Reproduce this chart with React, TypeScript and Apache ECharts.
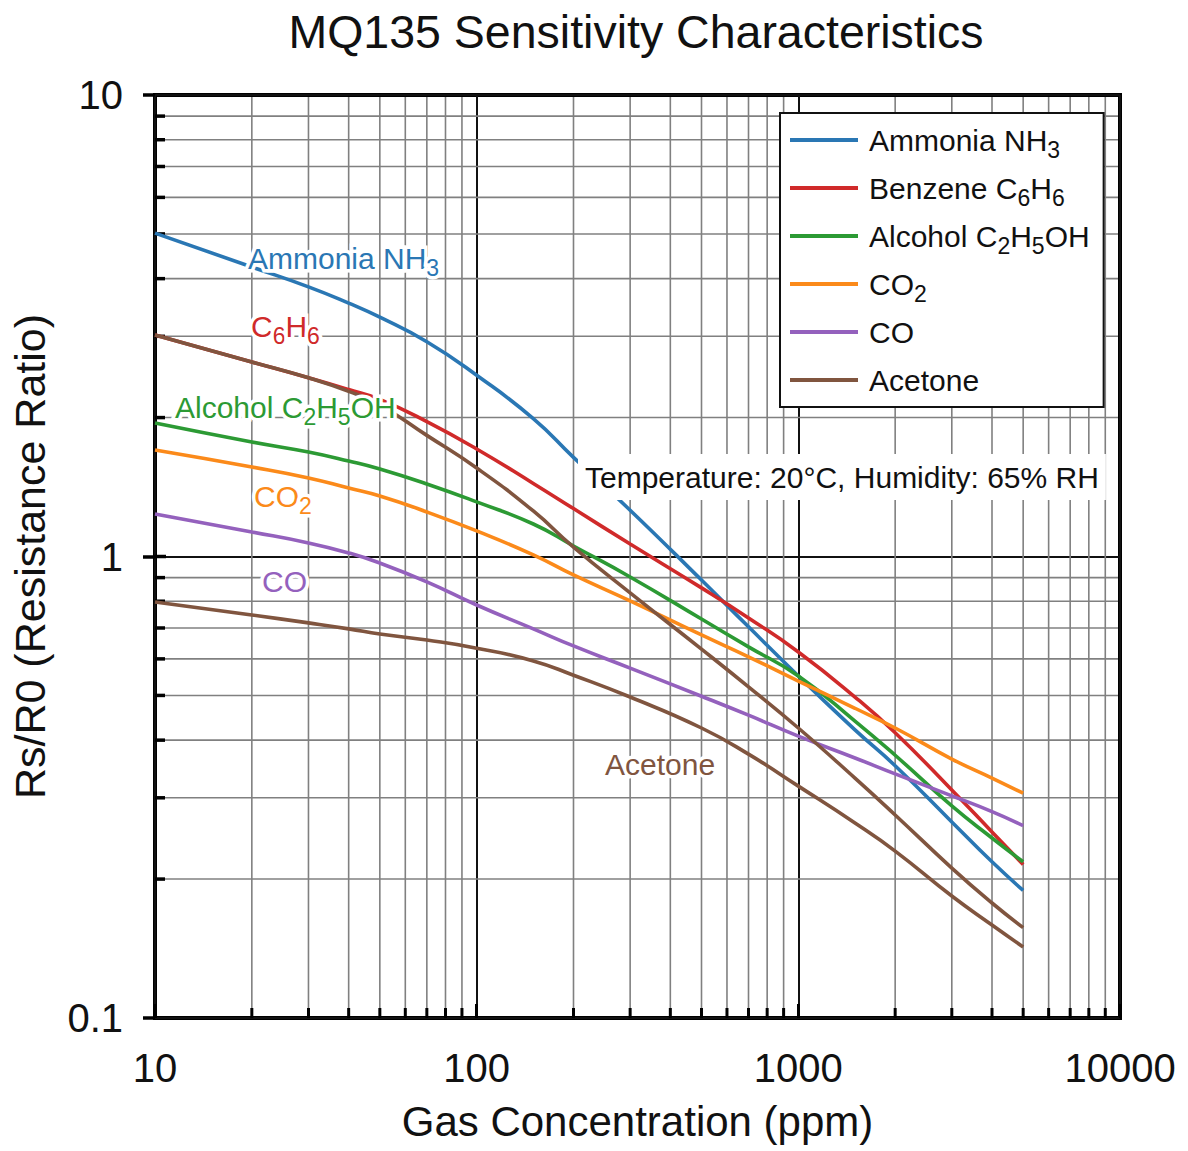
import React, { useEffect, useRef } from 'react';
import * as echarts from 'echarts';

// ---- data ----
const concentration = [10, 20, 30, 40, 50, 70, 100, 150, 200, 300, 500, 700, 1000, 1500, 2000, 3000, 4000, 5000];
const ammonia = [5.02, 4.24, 3.84, 3.54, 3.3, 2.92, 2.47, 1.99, 1.64, 1.26, 0.889, 0.704, 0.551, 0.421, 0.352, 0.266, 0.218, 0.189];
const benzene = [3.02, 2.64, 2.44, 2.3, 2.19, 1.96, 1.71, 1.44, 1.27, 1.064, 0.855, 0.736, 0.621, 0.496, 0.415, 0.312, 0.253, 0.215];
const alcohol = [1.947, 1.771, 1.684, 1.61, 1.547, 1.436, 1.313, 1.176, 1.054, 0.903, 0.732, 0.637, 0.551, 0.44, 0.371, 0.288, 0.2455, 0.218];
const co2 = [1.701, 1.563, 1.48, 1.407, 1.352, 1.249, 1.136, 1.008, 0.912, 0.801, 0.676, 0.606, 0.537, 0.469, 0.425, 0.364, 0.331, 0.307];
const co = [1.236, 1.13, 1.07, 1.018, 0.968, 0.881, 0.785, 0.697, 0.64, 0.573, 0.498, 0.453, 0.408, 0.366, 0.338, 0.303, 0.28, 0.261];
const acetoneSteep = [3.02, 2.64, 2.44, 2.28, 2.13, 1.83, 1.555, 1.255, 1.048, 0.834, 0.63, 0.522, 0.425, 0.331, 0.2754, 0.2113, 0.1775, 0.157];
const acetoneLow = [0.797, 0.747, 0.718, 0.697, 0.679, 0.659, 0.633, 0.594, 0.553, 0.496, 0.425, 0.373, 0.318, 0.2646, 0.23, 0.1838, 0.159, 0.1425];

const seriesNames = ['Ammonia NH3', 'Benzene C6H6', 'Alcohol C2H5OH', 'CO2', 'CO', 'Acetone'];
const legendRich: Record<string, string> = {
  'Ammonia NH3': 'Ammonia NH{s|3}',
  'Benzene C6H6': 'Benzene C{s|6}H{s|6}',
  'Alcohol C2H5OH': 'Alcohol C{s|2}H{s|5}OH',
  CO2: 'CO{s|2}',
  CO: 'CO{s| }',
  Acetone: 'Acetone{s| }',
};

// log-paper gridline / tick values
const xMinorGrid = [20, 30, 40, 50, 60, 70, 80, 90, 200, 300, 400, 500, 600, 700, 800, 900, 2000, 3000, 4000, 5000, 6000, 7000, 8000, 9000];
const yMinorGrid = [0.2, 0.3, 0.4, 0.5, 0.6, 0.7, 0.8, 0.9, 2, 3, 4, 5, 6, 7, 8, 9];
const yMajorInside = [1];

const X_MIN = 10, X_MAX = 10000, Y_MIN = 0.1, Y_MAX = 10;

const FONT = "'Liberation Sans', Arial, Helvetica, sans-serif";
const C_BLUE = '#2a77b4';
const C_RED = '#d02a2a';
const C_GREEN = '#2c9a34';
const C_ORANGE = '#fb8a1a';
const C_PURPLE = '#9461bd';
const C_BROWN = '#80553f';

function lineSeries(name: string, color: string, values: number[]) {
  return {
    type: 'line',
    name,
    data: concentration.map((c, i) => [c, values[i]]),
    smooth: 0.5,
    symbol: 'none',
    silent: true,
    z: 5,
    lineStyle: { color, width: 3.6 },
    itemStyle: { color },
  };
}

const subRich = { s: { fontSize: 23, lineHeight: 30, padding: [19, 0, 0, 0] } };

function curveLabel(text: string, x: number, y: number, color: string) {
  return {
    type: 'text',
    x,
    y,
    z: 20,
    silent: true,
    style: {
      text,
      fill: color,
      fontSize: 30,
      fontFamily: FONT,
      lineHeight: 30,
      align: 'left',
      verticalAlign: 'middle',
      stroke: '#fff',
      lineWidth: 7,
      strokeFirst: true,
      rich: subRich,
    },
  };
}

export default function App() {
  const ref = useRef<HTMLDivElement>(null);
  useEffect(() => {
    const chart = echarts.init(ref.current!, undefined, { renderer: 'svg' });
    const option: any = {
      animation: false,
      backgroundColor: '#fff',
      textStyle: { fontFamily: FONT },
      title: {
        text: 'MQ135 Sensitivity Characteristics',
        left: 631,
        textAlign: 'center',
        top: 3,
        textStyle: { fontSize: 46.5, fontWeight: 'normal', color: '#111', fontFamily: FONT },
      },
      grid: { left: 155, right: 68, top: 95, bottom: 133, show: true, borderColor: '#000', borderWidth: 4, backgroundColor: 'transparent' },
      legend: {
        data: seriesNames,
        orient: 'vertical',
        left: 780,
        top: 113,
        padding: [6, 14, 6, 10],
        itemGap: 6,
        itemWidth: 68,
        itemHeight: 4,
        icon: 'rect',
        backgroundColor: '#fff',
        borderColor: '#111',
        borderWidth: 2,
        borderRadius: 0,
        selectedMode: false,
        z: 30,
        formatter: (name: string) => legendRich[name] || name,
        textStyle: { fontSize: 30, color: '#111', fontFamily: FONT, lineHeight: 30, padding: [0, 0, 0, 6], rich: subRich },
      },
      xAxis: {
        type: 'log',
        logBase: 10,
        min: X_MIN,
        max: X_MAX,
        name: 'Gas Concentration (ppm)',
        nameLocation: 'middle',
        nameGap: 82,
        nameTextStyle: { fontSize: 42, color: '#111', fontFamily: FONT },
        axisLine: { show: false },
        axisTick: { show: true, inside: true, length: 14, lineStyle: { color: '#000', width: 3 } },
        axisLabel: { fontSize: 40, color: '#111', margin: 30, fontFamily: FONT, formatter: (v: number) => String(Number(v.toPrecision(4))) },
        splitLine: { show: true, lineStyle: { color: '#111', width: 2 } },
      },
      yAxis: {
        type: 'log',
        logBase: 10,
        min: Y_MIN,
        max: Y_MAX,
        name: 'Rs/R0 (Resistance Ratio)',
        nameLocation: 'middle',
        nameGap: 104,
        nameTextStyle: { fontSize: 43, color: '#111', fontFamily: FONT },
        axisLine: { show: false },
        axisTick: { show: true, inside: false, length: 12, lineStyle: { color: '#000', width: 3.5 } },
        axisLabel: { fontSize: 40, color: '#111', margin: 32, fontFamily: FONT, formatter: (v: number) => String(Number(v.toPrecision(4))) },
        splitLine: { show: true, lineStyle: { color: '#111', width: 2 } },
      },
      series: [
        {
          type: 'custom',
          name: 'xgrid',
          silent: true,
          z: 1,
          data: xMinorGrid.map((v) => [v, 1]),
          renderItem: (_p: any, api: any) => {
            const v = api.value(0);
            const b = api.coord([v, Y_MIN]);
            const t = api.coord([v, Y_MAX]);
            return {
              type: 'group',
              children: [
                { type: 'line', shape: { x1: b[0], y1: b[1] - 2, x2: t[0], y2: t[1] + 2 }, style: { stroke: '#808080', lineWidth: 1.6 } },
                { type: 'line', shape: { x1: b[0], y1: b[1], x2: b[0], y2: b[1] - 10 }, style: { stroke: '#000', lineWidth: 3 } },
              ],
            };
          },
        },
        {
          type: 'custom',
          name: 'ygrid',
          silent: true,
          z: 1,
          data: [...yMinorGrid.map((v) => [X_MIN, v, 0]), ...yMajorInside.map((v) => [X_MIN, v, 1])],
          renderItem: (_p: any, api: any) => {
            const v = api.value(1);
            const major = api.value(2) === 1;
            const l = api.coord([X_MIN, v]);
            const r = api.coord([X_MAX, v]);
            const children: any[] = [];
            if (!major) {
              children.push({ type: 'line', shape: { x1: l[0] + 2, y1: l[1], x2: r[0] - 2, y2: r[1] }, style: { stroke: '#808080', lineWidth: 1.6 } });
            }
            children.push({ type: 'line', shape: { x1: l[0], y1: l[1], x2: l[0] + (major ? 11 : 10), y2: l[1] }, style: { stroke: '#000', lineWidth: 3.5 } });
            return { type: 'group', children };
          },
        },
        lineSeries('Ammonia NH3', C_BLUE, ammonia),
        lineSeries('Benzene C6H6', C_RED, benzene),
        lineSeries('Alcohol C2H5OH', C_GREEN, alcohol),
        lineSeries('CO2', C_ORANGE, co2),
        lineSeries('CO', C_PURPLE, co),
        lineSeries('Acetone', C_BROWN, acetoneSteep),
        lineSeries('Acetone', C_BROWN, acetoneLow),
      ],
      graphic: [
        curveLabel('Ammonia NH{s|3}', 248, 258, C_BLUE),
        curveLabel('C{s|6}H{s|6}', 251, 326, C_RED),
        curveLabel('Alcohol C{s|2}H{s|5}OH', 175, 407, C_GREEN),
        curveLabel('CO{s|2}', 254, 496, C_ORANGE),
        curveLabel('CO', 262, 581, C_PURPLE),
        curveLabel('Acetone', 605, 764, C_BROWN),
        {
          type: 'text',
          x: 578,
          y: 477,
          z: 20,
          silent: true,
          style: {
            text: 'Temperature: 20°C, Humidity: 65% RH',
            fill: '#111',
            fontSize: 30,
            fontFamily: FONT,
            align: 'left',
            verticalAlign: 'middle',
            backgroundColor: '#fff',
            padding: [8, 7, 8, 7],
          },
        },
      ],
    };
    chart.setOption(option);
    return () => chart.dispose();
  }, []);
  return <div ref={ref} style={{ position: 'fixed', left: 0, top: 0, width: 1188, height: 1151, background: '#fff' }} />;
}
